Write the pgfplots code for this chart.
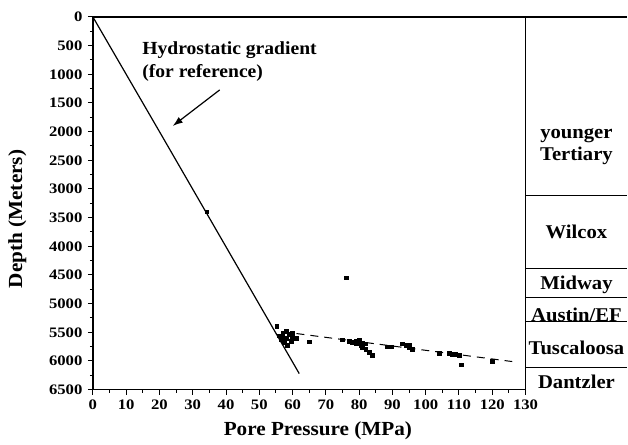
\documentclass[border=0pt]{standalone}
\usepackage{fontspec}
\setmainfont{Liberation Serif}[FakeStretch=1.06]
\newfontfamily\tickfont{Liberation Serif}[FakeStretch=1.15]
\usepackage{pgfplots}
\pgfplotsset{compat=1.18}
\usetikzlibrary{arrows.meta}

\begin{document}
\begin{tikzpicture}
\begin{axis}[
    scale only axis,
    width=433pt, height=373pt,
    xmin=0, xmax=130, ymin=0, ymax=6500,
    y dir=reverse,
    clip=false,
    axis line style={line width=1.3pt},
    xtick={0,10,...,130}, ytick={0,500,...,6500},
    minor x tick num=1, minor y tick num=1,
    xtick pos=left, ytick pos=left,
    tick align=outside,
    major tick length=5pt, minor tick length=3pt,
    tick style={line width=1pt, black},
    /pgf/number format/assume math mode=true,
    /pgf/number format/1000 sep={},
    ticklabel style={font=\tickfont\fontsize{14.5}{16}\selectfont\bfseries},
    xticklabel style={yshift=-2pt},
    yticklabel style={xshift=-2pt},
    xlabel={Pore Pressure (MPa)},
    ylabel={Depth (Meters)},
    label style={font=\fontsize{20}{22}\selectfont\bfseries},
    xlabel style={at={(axis description cs:0.52,-0.11)}, anchor=center},
    ylabel style={at={(axis description cs:-0.175,0.458)}, anchor=center},
]
% hydrostatic gradient
\addplot[black, line width=1.2pt] coordinates {(0,0) (21,2100) (62,6220)};
% trend of the measurements
\addplot[black, line width=1pt, dash pattern=on 8pt off 6pt] coordinates {(57,5490) (126,6010)};
% pore pressure measurements
\addplot[only marks, mark=square*, mark size=1.9pt, black] coordinates {
    (34.2,3398) (76,4548)
    (55.2,5400) (56,5560) (57,5520) (58,5480) (59,5540) (60,5580) (61,5600)
    (56.5,5620) (57.5,5680) (58.5,5720) (59.5,5650) (57,5600) (58,5600) (60,5520)
    (65.1,5663)
    (75,5630) (77,5650) (78,5670) (79,5700) (80,5640) (80.5,5720) (81,5760)
    (82,5800) (83,5840) (84,5900) (82,5700) (79,5660) (81,5680)
    (88.5,5750) (89.7,5750) (93,5700) (94,5730) (95,5760) (96,5790) (95,5720)
    (104,5870) (107,5860) (108,5880) (109,5880) (110,5900) (110.7,6064) (120,6010)
};
% stratigraphic column
\addplot[black, line width=1.3pt] coordinates {(130,0) (160.6,0)};
\addplot[black, line width=1.3pt] coordinates {(130,0) (130,6560)};
\addplot[black, line width=0.9pt] coordinates {(130,3119) (160.6,3119)};
\addplot[black, line width=0.9pt] coordinates {(130,4391) (160.6,4391)};
\addplot[black, line width=0.9pt] coordinates {(130,4897) (160.6,4897)};
\addplot[black, line width=0.9pt] coordinates {(130,5315) (160.6,5315)};
\addplot[black, line width=0.9pt] coordinates {(130,6117) (160.6,6117)};
\begin{scope}[font=\fontsize{19.5}{22}\selectfont\bfseries]
\node[align=center] at (axis cs:145.3,2257) {younger\\Tertiary};
\node at (axis cs:145.3,3747) {Wilcox};
\node at (axis cs:145.3,4670) {Midway};
\node at (axis cs:145.3,5193) {Austin/EF};
\node at (axis cs:145.3,5768) {Tuscaloosa};
\node at (axis cs:145.3,6361) {Dantzler};
\end{scope}
\node[align=left, anchor=west, inner sep=0pt,
      font=\fontsize{18.5}{23}\selectfont\bfseries] at (axis cs:14.8,770) {Hydrostatic gradient\\(for reference)};
\draw[-{Latex[length=10pt,width=7pt]}, line width=1.2pt] (axis cs:38.1,1272) -- (axis cs:24,1900);
\path (rel axis cs:0,0) ++(-93pt,-55pt) coordinate (bl);
\path (rel axis cs:1,1) ++(102pt,17pt) coordinate (tr);
\end{axis}
\path (bl) rectangle (tr);
\end{tikzpicture}
\end{document}
